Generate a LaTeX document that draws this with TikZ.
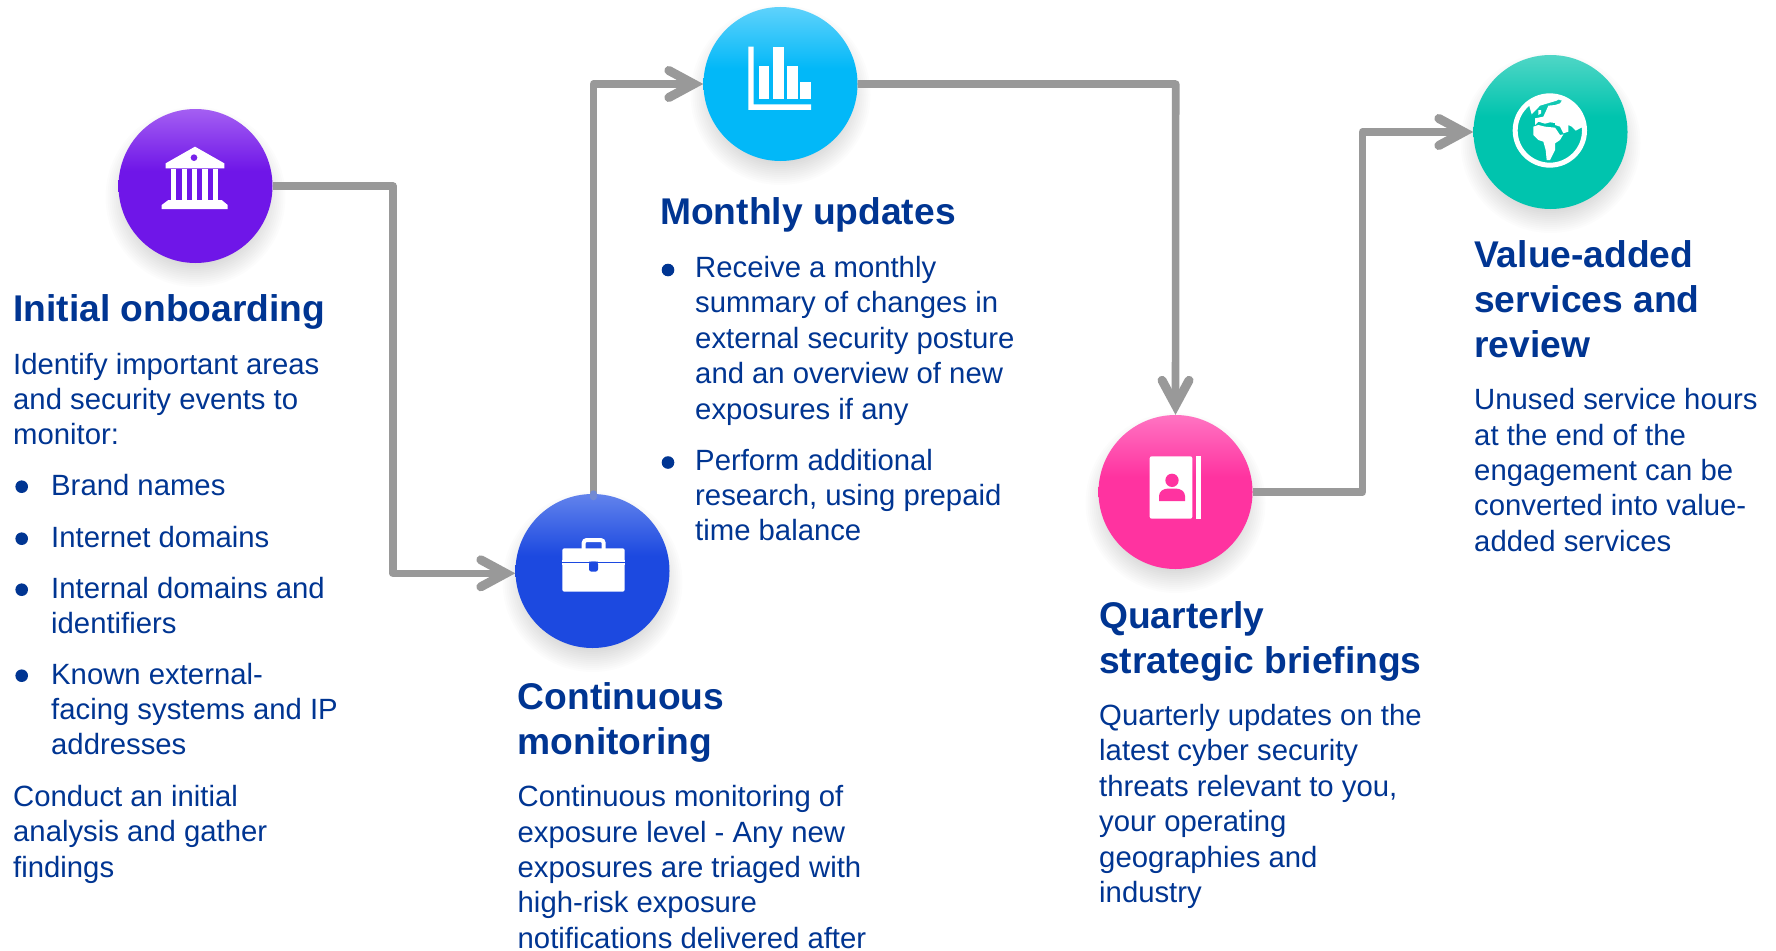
\documentclass[tikz,border=0pt]{standalone}
\usepackage{fontspec}
\setmainfont{Liberation Sans}
\usetikzlibrary{arrows.meta}
\definecolor{txt}{HTML}{003592}
\definecolor{lnk}{HTML}{999999}
\definecolor{pA}{HTML}{6F16E8}\definecolor{pAl}{HTML}{A45FF2}
\definecolor{pB}{HTML}{02B8F8}\definecolor{pBl}{HTML}{5FD2FB}
\definecolor{pC}{HTML}{1C49E0}\definecolor{pCl}{HTML}{6283EC}
\definecolor{pD}{HTML}{FF33A0}\definecolor{pDl}{HTML}{FF74C2}
\definecolor{pE}{HTML}{00C4AE}\definecolor{pEl}{HTML}{50D6C6}
\pgfdeclareverticalshading{shA}{100bp}{color(0bp)=(pA);color(55bp)=(pA);color(75bp)=(pAl);color(100bp)=(pAl)}
\pgfdeclareverticalshading{shB}{100bp}{color(0bp)=(pB);color(55bp)=(pB);color(75bp)=(pBl);color(100bp)=(pBl)}
\pgfdeclareverticalshading{shC}{100bp}{color(0bp)=(pC);color(55bp)=(pC);color(75bp)=(pCl);color(100bp)=(pCl)}
\pgfdeclareverticalshading{shD}{100bp}{color(0bp)=(pD);color(55bp)=(pD);color(75bp)=(pDl);color(100bp)=(pDl)}
\pgfdeclareverticalshading{shE}{100bp}{color(0bp)=(pE);color(55bp)=(pE);color(75bp)=(pEl);color(100bp)=(pEl)}
\newcommand{\blk}[1]{\begin{tabular}[t]{@{}l@{}}#1\end{tabular}}
\newcommand{\softshadow}[2]{\foreach \r in {60,62,...,90}{\fill[black,opacity=0.013] (#1,#2) ++(0,11) circle[radius=\r];}}
\tikzset{
  x=1pt,y=-1pt,
  disc/.style={circle,inner sep=0pt,minimum size=154pt},
  head/.style={anchor=base west,inner sep=0pt,text=txt,font=\fontsize{37.2}{45}\selectfont\bfseries},
  body/.style={anchor=base west,inner sep=0pt,text=txt,font=\fontsize{29.3}{35.35}\selectfont},
  conn/.style={draw=lnk,line width=7.6pt,line join=round},
  tip/.style={-{Straight Barb[length=25pt,width=27pt,line width=9pt,line cap=round,line join=miter]}},
  bul/.style={fill=txt},
  ico/.style={fill=white,draw=none}
}
\begin{document}
\begin{tikzpicture}
\useasboundingbox (0,0) rectangle (1776,950);
\fill[white] (0,0) rectangle (1776,950);
\softshadow{195.5}{186}
\softshadow{780.5}{84}
\softshadow{592.5}{571}
\softshadow{1175.5}{492}
\softshadow{1550.5}{132}

\node[disc,shading=shA] (c1) at (195.5,186) {};
\node[disc,shading=shB] (c2) at (780.5,84) {};
\node[disc,shading=shC] (c3) at (592.5,571) {};
\node[disc,shading=shD] (c4) at (1175.5,492) {};
\node[disc,shading=shE] (c5) at (1550.5,132) {};

\coordinate (k1) at (393,186);
\coordinate (k2) at (593.5,84);
\coordinate (k3) at (1175.7,84);
\coordinate (k4) at (1362.5,492);
\draw[conn,tip] (c1.east) -- (k1) -- (k1 |- 0,573.3) -- ([yshift=-2.3pt]c3.west);
\draw[conn,tip] ([xshift=1pt]c3.north) -- (k2) -- (c2.west);
\draw[conn,tip] (c2.east) -- (k3) -- (c4.north);
\draw[conn,tip] (c4.east) -- (k4) -- (k4 |- c5.west) -- (c5.west);
\draw[draw=pCl!70!lnk,line width=7pt,line cap=round] ([xshift=1pt]c3.north) -- ++(0,3);

% bank icon
\begin{scope}[shift={(100,90)},x=.33333pt,y=-.33333pt]
\fill[ico] (285,170) -- (373,220) -- (373,235) -- (197,235) -- (197,220) -- cycle;
\foreach \a/\b in {213/229,245/261,276/292,307/323,339/355}{\fill[ico] (\a,238) rectangle (\b,332);}
\fill[ico] (205,330) -- (365,330) -- (383,345) -- (383,357) -- (185,357) -- (185,345) -- cycle;
\fill[pA!85!pAl] (282,203) circle[radius=10];
\end{scope}
% chart icon
\begin{scope}[shift={(690,0)},x=.33333pt,y=-.33333pt]
\fill[ico] (175,140) -- (191,140) -- (191,313) -- (363,313) -- (363,330) -- (175,330) -- cycle;
\fill[ico] (207,198) rectangle (238,297);
\fill[ico] (249,142) rectangle (282,297);
\fill[ico] (291,198) rectangle (324,297);
\fill[ico] (330,246) rectangle (363,297);
\end{scope}
% briefcase icon
\begin{scope}[shift={(500,480)},x=.33333pt,y=-.33333pt]
\draw[white,line width=4pt,rounded corners=3pt] (251,210) -- (251,180) -- (311,180) -- (311,210);
\fill[ico,rounded corners=2pt] (187,205) rectangle (374,245);
\fill[ico,rounded corners=2pt] (187,250) rectangle (374,335);
\fill[ico] (187,240) rectangle (267,245);\fill[ico] (294,240) rectangle (374,245);
\fill[ico] (187,250) rectangle (267,256);\fill[ico] (294,250) rectangle (374,256);
\fill[pC,rounded corners=2.5pt] (267,245) -- (294,245) -- (294,275) -- (267,275) -- cycle;
\end{scope}
% address book icon
\begin{scope}[shift={(1080,390)},x=.33333pt,y=-.33333pt]
\fill[ico,rounded corners=2pt] (209,199) rectangle (337,386);
\fill[ico] (347,199) rectangle (363,386);
\fill[pD] (276,271) circle[radius=20];
\fill[pD] (237,333) -- (237,318) .. controls (237,303) and (252,296) .. (262,296) -- (290,296) .. controls (300,296) and (315,303) .. (315,318) -- (315,333) -- cycle;
\end{scope}
% globe icon
\begin{scope}[shift={(1505,85)},x=.33333pt,y=-.33333pt]
\draw[white,line width=5pt] (134.5,136.5) circle[radius=104];
\fill[ico] (72,60) -- (80,88) -- (105,62) -- (155,47) -- (165,40) -- (150,30) -- (100,38) -- cycle;
\fill[ico] (100,75) -- (108,75) -- (108,85) -- (100,90) -- cycle;
\fill[ico] (122,80) -- (130,62) -- (150,60) -- (165,55) -- (172,45) -- (200,60) -- (225,90) -- (236,125) -- (225,130) -- (212,137) -- (200,125) -- (190,120) -- (190,140) -- (175,145) -- (165,125) -- (150,120) -- (150,114) -- (135,112) -- (120,116) -- (100,110) -- (90,120) -- (90,100) -- (115,95) -- cycle;
\fill[ico] (85,125) -- (100,120) -- (120,125) -- (150,128) -- (155,135) -- (165,150) -- (175,148) -- (165,165) -- (150,175) -- (150,195) -- (135,225) -- (125,225) -- (122,195) -- (115,170) -- (100,165) -- (85,150) -- cycle;
\end{scope}

% column 1
\node[head] (t1h) at (13,321.7) {\blk{Initial onboarding}};
\node[body] (t1a) at (13,374) {\blk{Identify important areas\\and security events to\\monitor:}};
\node[body] (t1b) at (51,495) {\blk{Brand names}};
\node[body] (t1c) at (51,547) {\blk{Internet domains}};
\node[body] (t1d) at (51,598) {\blk{Internal domains and\\identifiers}};
\node[body] (t1e) at (51,684) {\blk{Known external-\\facing systems and IP\\addresses}};
\node[body] (t1f) at (13,806.5) {\blk{Conduct an initial\\analysis and gather\\findings}};
\foreach \y in {486.7,538.7,589.7,675.7}{\fill[bul] (21.7,\y) circle[radius=6.3];}
% column 3
\node[head] (t3h) at (517.5,709) {\blk{Continuous\\monitoring}};
\node[body] (t3a) at (517.5,806.9) {\blk{Continuous monitoring of\\exposure level - Any new\\exposures are triaged with\\high-risk exposure\\notifications delivered after}};
% column 2
\node[head] (t2h) at (660,224.5) {\blk{Monthly updates}};
\node[body] (t2a) at (695,277.6) {\blk{Receive a monthly\\summary of changes in\\external security posture\\and an overview of new\\exposures if any}};
\node[body] (t2b) at (695,470) {\blk{Perform additional\\research, using prepaid\\time balance}};
\foreach \y in {270,462.5}{\fill[bul] (668,\y) circle[radius=6.3];}
% column 4
\node[head] (t4h) at (1099,628) {\blk{Quarterly\\strategic briefings}};
\node[body] (t4a) at (1099,725.6) {\blk{Quarterly updates on the\\latest cyber security\\threats relevant to you,\\your operating\\geographies and\\industry}};
% column 5
\node[head] (t5h) at (1474,267.5) {\blk{Value-added\\services and\\review}};
\node[body] (t5a) at (1474,409.7) {\blk{Unused service hours\\at the end of the\\engagement can be\\converted into value-\\added services}};
\end{tikzpicture}
\end{document}
